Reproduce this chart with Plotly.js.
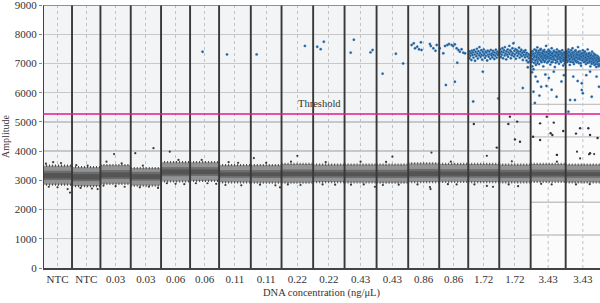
<!DOCTYPE html>
<html><head><meta charset="utf-8">
<script src="https://cdn.plot.ly/plotly-3.0.1.min.js"></script>
<style>html,body{margin:0;padding:0;background:#fff}#c{width:600px;height:303px}</style>
</head><body><div id="c"></div>
<script>
// ---- data ----
const wellLabels = ["NTC","NTC","0.03","0.03","0.06","0.06","0.11","0.11","0.22","0.22","0.43","0.43","0.86","0.86","1.72","1.72","3.43","3.43"];
// accepted droplets per well (sets each well's width on the event axis)
const dropletCounts = [14500,14200,15150,15150,14500,14500,15850,15350,15800,15700,16000,15800,15500,14500,15500,15700,17500,17150];
const threshold = 5270;
// negative droplet band per well (amplitude)
const bandHigh = [3500,3450,3520,3420,3620,3620,3520,3520,3560,3540,3540,3540,3580,3560,3560,3540,3560,3540];
const bandLow  = [2850,2800,2880,2820,2960,2980,2930,2920,2920,2940,2930,2920,2940,2950,2940,2930,2950,2930];
const coreHigh = [3330,3290,3350,3290,3450,3450,3350,3350,3370,3360,3360,3360,3390,3380,3380,3360,3370,3360];
const coreLow  = [3010,2970,3040,2990,3140,3150,3090,3080,3090,3090,3080,3080,3090,3100,3090,3080,3100,3090];
// scattered negative droplets at band edges: [relative position in well, amplitude]
const negEdge = [
 [[0.1,3570],[0.35,3620],[0.62,3590],[0.2,2780],[0.5,2760],[0.85,2700],[0.93,2580]],
 [[0.15,3520],[0.55,3500],[0.3,2740],[0.7,2720],[0.9,2700]],
 [[0.2,3640],[0.45,3900],[0.7,3580],[0.1,2820],[0.5,2800],[0.8,2780]],
 [[0.15,3930],[0.4,3500],[0.75,4100],[0.3,2760],[0.6,2780],[0.9,2740]],
 [[0.3,3980],[0.6,3700],[0.2,2900],[0.5,2880],[0.8,2870]],
 [[0.4,3700],[0.2,2900],[0.6,2900],[0.9,2880]],
 [[0.3,3620],[0.6,3600],[0.2,2840],[0.7,2830]],
 [[0.1,3760],[0.5,3600],[0.3,2850],[0.8,2830],[0.95,2760]],
 [[0.5,3840],[0.3,3640],[0.2,2860],[0.6,2840]],
 [[0.4,3620],[0.3,2860],[0.7,2850]],
 [[0.5,3640],[0.2,2850],[0.6,2860],[0.95,2780]],
 [[0.5,3810],[0.3,3630],[0.2,2840],[0.7,2850]],
 [[0.75,3950],[0.3,2860],[0.7,2770],[0.72,2700]],
 [[0.4,3640],[0.3,2870],[0.6,2860]],
 [[0.6,3840],[0.2,2860],[0.6,2810],[0.8,2780]],
 [[0.4,3650],[0.3,2860],[0.6,2800]],
 [[0.75,3870],[0.75,3640],[0.3,2880],[0.6,2860]],
 [[0.42,3750],[0.33,3980],[0.68,3890],[0.83,3900],[0.3,2860],[0.7,2870]]
];
// positive droplets: [relative position in well, amplitude]
const positives = [
 [],[],[],[],[],
 [[0.43,7400]],
 [[0.25,7310]],
 [[0.19,7310]],
 [[0.74,7600]],
 [[0.13,7570],[0.24,7490],[0.34,7740]],
 [[0.29,7810],[0.19,7370],[0.81,7380],[0.875,7460]],
 [[0.19,6650],[0.61,7330],[0.84,7000]],
 [[0.11,7631],[0.18,7689],[0.22,7518],[0.29,7573],[0.35,7484],[0.41,7723],[0.43,7460],[0.70,7665],[0.73,7597],[0.81,7518],[0.88,7436],[0.92,7631]],
 [[0.02,7518],[0.14,7347],[0.2,7597],[0.28,7631],[0.34,7665],[0.43,7631],[0.48,7597],[0.54,7655],[0.6,7518],[0.66,7460],[0.71,7402],[0.77,7484],[0.83,7368],[0.89,7347],[0.54,6375],[0.23,6262],[0.62,7025]],
 [[0.02,7320],[0.04,7180],[0.05,7410],[0.07,7260],[0.09,7350],[0.10,7120],[0.12,7440],[0.14,7290],[0.15,7380],[0.17,7200],[0.19,7460],[0.21,7310],[0.22,7090],[0.24,7400],[0.26,7250],[0.28,7500],[0.29,7340],[0.31,7170],[0.33,7420],[0.35,7280],[0.36,7560],[0.38,7360],[0.40,7220],[0.42,7450],[0.43,7300],[0.45,7130],[0.47,7390],[0.49,7270],[0.50,7480],[0.52,7330],[0.54,7190],[0.56,7410],[0.57,7260],[0.59,7370],[0.61,7100],[0.63,7440],[0.64,7300],[0.66,7230],[0.68,7400],[0.70,7320],[0.71,7160],[0.73,7460],[0.75,7280],[0.77,7350],[0.78,7210],[0.80,7430],[0.82,7300],[0.84,7150],[0.85,7380],[0.87,7260],[0.89,7470],[0.91,7330],[0.92,7200],[0.94,7400],[0.96,7290],[0.98,7360],
  [0.47,6720],[0.16,5700],[0.97,5800],[0.18,4930],[0.92,4120]],
 [[0.02,7350],[0.03,7480],[0.05,7220],[0.07,7400],[0.08,7300],[0.10,7520],[0.12,7180],[0.13,7380],[0.15,7450],[0.17,7270],[0.18,7560],[0.20,7340],[0.22,7140],[0.23,7420],[0.25,7300],[0.27,7480],[0.28,7230],[0.30,7380],[0.32,7600],[0.33,7320],[0.35,7450],[0.37,7180],[0.38,7400],[0.40,7280],[0.42,7520],[0.43,7350],[0.45,7690],[0.47,7240],[0.48,7430],[0.50,7310],[0.52,7490],[0.53,7160],[0.55,7370],[0.57,7450],[0.58,7260],[0.60,7400],[0.62,7330],[0.63,7540],[0.65,7200],[0.67,7410],[0.68,7300],[0.70,7470],[0.72,7250],[0.73,7360],[0.75,7120],[0.77,7420],[0.78,7290],[0.80,7380],[0.82,7210],[0.83,7450],[0.85,7300],[0.87,7100],[0.88,7360],[0.90,7240],[0.92,7040],[0.93,7320],[0.95,7180],[0.97,7270],[0.98,7080],
  [0.75,6160],[0.91,6870],[0.34,5180],[0.57,5010],[0.29,4930],[0.50,4400],[0.66,4320]],
 [[0.01,7180],[0.02,7350],[0.03,7050],[0.04,7260],[0.05,6900],[0.06,7420],[0.07,7130],[0.08,6800],[0.09,7300],[0.10,7200],[0.11,7480],[0.12,7020],[0.13,7350],[0.14,7240],[0.15,6950],[0.16,7400],[0.17,7150],[0.18,7290],[0.19,7550],[0.20,7080],[0.21,7330],[0.22,7200],[0.23,7440],[0.24,6980],[0.25,7260],[0.26,7380],[0.27,7120],[0.28,7310],[0.29,7500],[0.30,7210],[0.31,7040],[0.32,7360],[0.33,7170],[0.34,7430],[0.35,7270],[0.36,6900],[0.37,7330],[0.38,7190],[0.39,7460],[0.40,7240],[0.41,7090],[0.42,7380],[0.43,7300],[0.44,7600],[0.45,7150],[0.46,7250],[0.47,7020],[0.48,7410],[0.49,7320],[0.50,7180],[0.51,7470],[0.52,7230],[0.53,7100],[0.54,7350],[0.55,7270],[0.56,6960],[0.57,7400],[0.58,7200],[0.59,7310],[0.60,7520],[0.61,7140],[0.62,7280],[0.63,7050],[0.64,7370],[0.65,7220],[0.66,7440],[0.67,7160],[0.68,7300],[0.69,6880],[0.70,7250],[0.71,7390],[0.72,7110],[0.73,7330],[0.74,7200],[0.75,7480],[0.76,7060],[0.77,7280],[0.78,7360],[0.79,7170],[0.80,7420],[0.81,6990],[0.82,7240],[0.83,7320],[0.84,7130],[0.85,7400],[0.86,7210],[0.87,7050],[0.88,7300],[0.89,7180],[0.90,7450],[0.91,7100],[0.92,7260],[0.93,6930],[0.94,7340],[0.95,7200],[0.96,7080],[0.97,7290],[0.98,7150],[0.99,7380],
  [0.015,7280],[0.035,7400],[0.055,7150],[0.075,7330],[0.095,7020],[0.115,7250],[0.135,7100],[0.155,7450],[0.175,7220],[0.195,7010],[0.215,7380],[0.235,7160],[0.255,7300],[0.275,7470],[0.295,7080],[0.315,7250],[0.335,7350],[0.355,7120],[0.375,7420],[0.395,7050],[0.415,7280],[0.435,7190],[0.455,7380],[0.475,7240],[0.495,7060],[0.515,7330],[0.535,7420],[0.555,7180],[0.575,7280],[0.595,7040],[0.615,7350],[0.635,7230],[0.655,7130],[0.675,7400],[0.695,7270],[0.715,7020],[0.735,7380],[0.755,7230],[0.775,7150],[0.795,7300],[0.815,7410],[0.835,7200],[0.855,7080],[0.875,7350],[0.895,7260],[0.915,7330],[0.935,7130],[0.955,7380],[0.975,7000],[0.995,7240],
  [0.04,6700],[0.08,6030],[0.14,6550],[0.2,6380],[0.3,6200],[0.42,6620],[0.45,6230],[0.52,6500],[0.6,6100],[0.74,5860],[0.88,6380],[0.66,6720],[0.25,5900],[0.12,5650],[0.95,6600],
  [0.07,4490],[0.27,4380],[0.27,4950],[0.46,5180],[0.57,4610],[0.62,4550],[0.66,4975],[0.93,4690],[0.75,3870]],
 [[0.01,7300],[0.02,7150],[0.03,7420],[0.04,7230],[0.05,7050],[0.06,7350],[0.07,7200],[0.08,7480],[0.09,7110],[0.10,7280],[0.11,7380],[0.12,6950],[0.13,7250],[0.14,7330],[0.15,7160],[0.16,7450],[0.17,7060],[0.18,7290],[0.19,7200],[0.20,7520],[0.21,7130],[0.22,7340],[0.23,7240],[0.24,6980],[0.25,7400],[0.26,7180],[0.27,7300],[0.28,7090],[0.29,7450],[0.30,7220],[0.31,7330],[0.32,7040],[0.33,7270],[0.34,7380],[0.35,7150],[0.36,7560],[0.37,7200],[0.38,7300],[0.39,7010],[0.40,7250],[0.41,7420],[0.42,7130],[0.43,7330],[0.44,7190],[0.45,6920],[0.46,7360],[0.47,7240],[0.48,7100],[0.49,7310],[0.50,7450],[0.51,7170],[0.52,7270],[0.53,7050],[0.54,7350],[0.55,7200],[0.56,7410],[0.57,7120],[0.58,7280],[0.59,6980],[0.60,7230],[0.61,7340],[0.62,7090],[0.63,7260],[0.64,7480],[0.65,7150],[0.66,7300],[0.67,7020],[0.68,7220],[0.69,7360],[0.70,7110],[0.71,7250],[0.72,6900],[0.73,7170],[0.74,7320],[0.75,7060],[0.76,7200],[0.77,7400],[0.78,7130],[0.79,7000],[0.80,7260],[0.81,7090],[0.82,7330],[0.83,7160],[0.84,6950],[0.85,7220],[0.86,7080],[0.87,7290],[0.88,7140],[0.89,6880],[0.90,7200],[0.91,7050],[0.92,7260],[0.93,6970],[0.94,7130],[0.95,7220],[0.96,6900],[0.97,7080],[0.98,7170],[0.99,6980],
  [0.015,7200],[0.035,7330],[0.055,7100],[0.075,7270],[0.095,7400],[0.115,7150],[0.135,7060],[0.155,7300],[0.175,7210],[0.195,7380],[0.215,7040],[0.235,7260],[0.255,7150],[0.275,7420],[0.295,7090],[0.315,7200],[0.335,7310],[0.355,7060],[0.375,7390],[0.395,7170],[0.415,7280],[0.435,7010],[0.455,7230],[0.475,7340],[0.495,7120],[0.515,7260],[0.535,7380],[0.555,7060],[0.575,7200],[0.595,7300],[0.615,7150],[0.635,7020],[0.655,7240],[0.675,7330],[0.695,7060],[0.715,7180],[0.735,7280],[0.755,6990],[0.775,7150],[0.795,7250],[0.815,7030],[0.835,7190],[0.855,7290],[0.875,6980],[0.895,7120],[0.915,7200],[0.935,7060],[0.955,7150],[0.975,6950],[0.995,7100],
  [0.13,5750],[0.27,5750],[0.47,6090],[0.5,5980],[0.76,5860],[0.9,6550],[0.22,6550],[0.71,6720],[0.47,6320],[0.08,5350],[0.6,6600],[0.35,6400],[0.97,6200],
  [0.42,4780],[0.66,4780],[0.71,4550],[0.71,3925],[0.93,4450],[0.3,4600]]
];
// grid lines drawn by the reader software for the 3.43 wells
const altGrid = [1130, 2250, 3370, 4490, 5600, 6780, 7970];

// ---- build ----
const starts = [];
let acc = 0;
dropletCounts.forEach(c => { starts.push(acc); acc += c; });
const total = acc;
const centers = starts.map((s, i) => s + dropletCounts[i] / 2);

const traces = [];
function bandTrace(i, lo, hi, color) {
  const x0 = starts[i], x1 = starts[i] + dropletCounts[i];
  return {x: [x0, x1, x1, x0, x0], y: [lo[i], lo[i], hi[i], hi[i], lo[i]], mode: 'lines', fill: 'toself',
    fillcolor: color, line: {width: 0}, hoverinfo: 'skip', showlegend: false};
}
const midLo = coreLow.map(v => v + 60), midHi = coreHigh.map(v => v - 80);
for (let i = 0; i < wellLabels.length; i++) {
  traces.push(bandTrace(i, bandLow, bandHigh, '#939393'));
  traces.push(bandTrace(i, coreLow, coreHigh, '#6c6c6c'));
  traces.push(bandTrace(i, midLo, midHi, '#545454'));
}
// speckled band edges
const ex = [], ey = [];
for (let i = 0; i < wellLabels.length; i++) {
  const x0 = starts[i], x1 = starts[i] + dropletCounts[i];
  ex.push(x0, x1, null, x0, x1, null);
  ey.push(bandHigh[i], bandHigh[i], null, bandLow[i], bandLow[i], null);
}
traces.push({x: ex, y: ey, mode: 'lines', line: {color: '#4a4a4a', width: 2.2, dash: '1px,2px'}, hoverinfo: 'skip', showlegend: false});

// edge droplets
const nx = [], ny = [];
negEdge.forEach((pts, i) => pts.forEach(p => { nx.push(starts[i] + p[0] * dropletCounts[i]); ny.push(p[1]); }));
traces.push({x: nx, y: ny, mode: 'markers', marker: {color: '#3a3a3a', size: 2.2}, hoverinfo: 'skip', showlegend: false});

const px = [], py = [], gx = [], gy = [];
positives.forEach((pts, i) => pts.forEach(p => {
  const xv = starts[i] + p[0] * dropletCounts[i];
  if (p[1] > threshold) { px.push(xv); py.push(p[1]); } else { gx.push(xv); gy.push(p[1]); }
}));
traces.push({x: gx, y: gy, mode: 'markers', marker: {color: '#2b3440', size: 2.4}, hoverinfo: 'skip', showlegend: false});
traces.push({x: px, y: py, mode: 'markers', marker: {color: '#1d5790', size: 2.4, line: {color: '#5a9ad0', width: 0.4}}, hoverinfo: 'skip', showlegend: false});

const shapes = [];
// lighter background for 3.43 wells
shapes.push({type: 'rect', xref: 'x', yref: 'y', x0: starts[16], x1: total, y0: 0, y1: 9000, fillcolor: '#fbfbfb', line: {width: 0}, layer: 'between'});
altGrid.forEach(v => shapes.push({type: 'line', xref: 'x', yref: 'y', x0: starts[16], x1: total, y0: v, y1: v, line: {color: '#c4c4c4', width: 1.3}, layer: 'between'}));
[16, 17].forEach(i => shapes.push({type: 'line', xref: 'x', yref: 'y', x0: centers[i], x1: centers[i], y0: 0, y1: 9000, line: {color: '#c0c0c0', width: 1, dash: 'dot'}, layer: 'between'}));
// well separators
starts.forEach(s => shapes.push({type: 'line', xref: 'x', yref: 'y', x0: s, x1: s, y0: 0, y1: 9000, line: {color: '#383838', width: 1.9}, layer: 'above'}));
// top border
shapes.push({type: 'line', xref: 'x', yref: 'y', x0: 0, x1: total, y0: 9000, y1: 9000, line: {color: '#707070', width: 1.6}, layer: 'above'});
// threshold
shapes.push({type: 'line', xref: 'x', yref: 'y', x0: 0, x1: total, y0: threshold, y1: threshold, line: {color: '#e4188f', width: 1.6}, layer: 'above'});

const serif = '"Liberation Serif", "DejaVu Serif", serif';
const layout = {
  width: 600, height: 303,
  margin: {l: 43, r: 0, t: 5, b: 35},
  paper_bgcolor: '#ffffff', plot_bgcolor: '#f3f4f6',
  font: {family: serif, size: 10, color: '#333'},
  showlegend: false,
  xaxis: {range: [0, total], tickvals: centers, ticktext: wellLabels, showgrid: true, gridcolor: '#c2c2c2', griddash: 'dot', gridwidth: 1,
    zeroline: false, showline: true, linecolor: '#444', linewidth: 1.5, ticks: '', tickfont: {family: serif, size: 11, color: '#333'},
    title: {text: 'DNA concentration (ng/μL)', font: {family: serif, size: 10.5, color: '#333'}, standoff: 5}, fixedrange: true},
  yaxis: {range: [0, 9000], tickvals: [0,1000,2000,3000,4000,5000,6000,7000,8000,9000], showgrid: true, gridcolor: '#c8c8c8', gridwidth: 1.3,
    zeroline: false, showline: false, ticks: 'outside', ticklen: 3, tickcolor: '#888', ticklabeloverflow: 'allow',
    tickfont: {family: serif, size: 11, color: '#333'},
    title: {text: 'Amplitude', font: {family: serif, size: 10, color: '#333'}, standoff: 5}, fixedrange: true},
  shapes: shapes,
  annotations: [{xref: 'paper', yref: 'y', x: 0.497, y: threshold + 90, text: 'Threshold', showarrow: false, yanchor: 'bottom', xanchor: 'center',
    font: {family: serif, size: 10.5, color: '#333'}}]
};
Plotly.newPlot('c', traces, layout, {staticPlot: true});
</script></body></html>
